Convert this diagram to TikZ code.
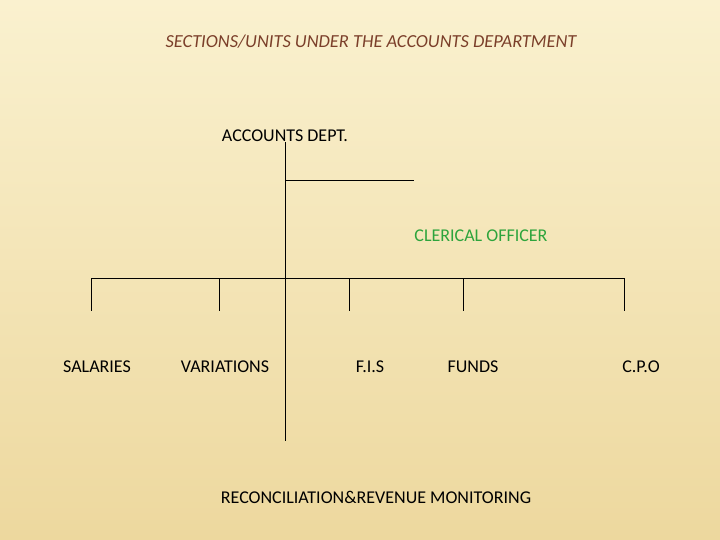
\documentclass[tikz,border=0pt]{standalone}
\usepackage{fontspec}
\setmainfont{Carlito}
\definecolor{titlebrown}{HTML}{7B3F2A}
\definecolor{clerkgreen}{HTML}{2DA43C}
\definecolor{bgtop}{HTML}{FAF1CF}
\definecolor{bgbot}{HTML}{EDD89E}
\tikzset{unit/.style={font=\fontsize{18}{21}\selectfont,inner sep=0pt,anchor=base}}

\begin{document}
\begin{tikzpicture}[x=1pt,y=-1pt]
			\shade[top color=bgtop,bottom color=bgbot] (0,0) rectangle (720,540);
			\useasboundingbox (0,0) rectangle (720,540);
			\node[unit,font=\fontsize{18.4}{21}\selectfont\itshape,text=titlebrown] (title) at (371,48) {SECTIONS/UNITS UNDER THE ACCOUNTS DEPARTMENT};
			\node[unit] (dept) at (285,142) {ACCOUNTS DEPT.};
			\node[unit,text=clerkgreen] (clerk) at (481,241) {CLERICAL OFFICER};
			\node[unit] (salaries) at (97,372) {SALARIES};
			\node[unit] (variations) at (225,372) {VARIATIONS};
			\node[unit] (fis) at (370,372) {F.I.S};
			\node[unit] (funds) at (473,372) {FUNDS};
			\node[unit] (cpo) at (641,372) {C.P.O};
			\node[unit] (recon) at (376,503) {RECONCILIATION\&REVENUE MONITORING};
				\coordinate (stem) at (285,441);
				\coordinate (clerkbranch) at (285,180);
				\coordinate (clerkend) at (414,180);
				\coordinate (barl) at (91,278);
				\coordinate (barr) at (624,278);
			\draw[thick] (dept.south) -- (stem);
			\draw[thick] (clerkbranch) -- (clerkend);
			\draw[thick] (barl) -- (barr);
			\foreach \name/\x in {dsal/91,dvar/219,dfis/349,dfund/463,dcpo/624}{
				\coordinate (\name top) at (\x,278);
				\coordinate (\name) at (\x,311);
				\draw[thick] (\name top) -- (\name);
			}
		\end{tikzpicture}
\end{document}
